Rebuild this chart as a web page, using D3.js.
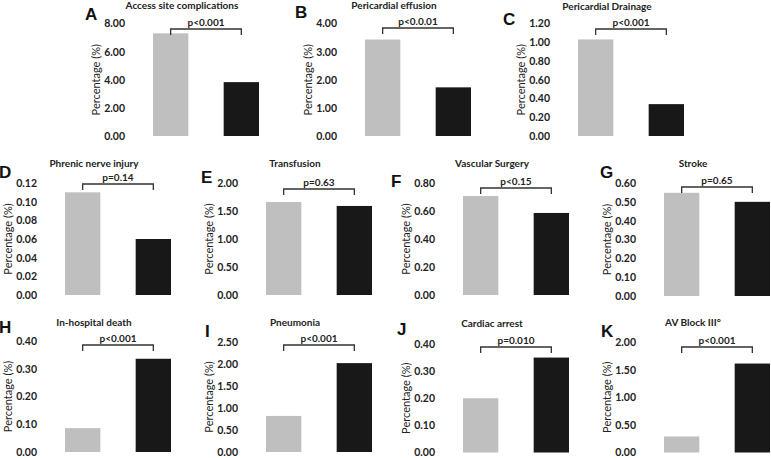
<!DOCTYPE html>
<html><head><meta charset="utf-8">
<script src="https://cdn.jsdelivr.net/npm/d3@7"></script>
<style>body{margin:0;background:#fff}svg{display:block}</style></head>
<body>
<svg id="c" width="771" height="458"></svg>
<script>
// ---- data ----
const letters = ["A","B","C","D","E","F","G","H","I","J","K"];
const titles = ["Access site complications","Pericardial effusion","Pericardial Drainage",
  "Phrenic nerve injury","Transfusion","Vascular Surgery","Stroke",
  "In-hospital death","Pneumonia","Cardiac arrest","AV Block III°"];
const pLabels = ["p<0.001","p<0.0.01","p<0.001","p=0.14","p=0.63","p<0.15","p=0.65",
  "p<0.001","p<0.001","p=0.010","p<0.001"];
const groups = ["group1","group2"];
const group1Values = [7.30, 3.43, 1.03, 0.110, 1.66, 0.707, 0.548, 0.086, 0.82, 0.20, 0.29];
const group2Values = [3.83, 1.73, 0.34, 0.060, 1.59, 0.586, 0.50, 0.336, 2.02, 0.35, 1.61];
const yMaxes = [8, 4, 1.2, 0.12, 2, 0.8, 0.6, 0.4, 2.5, 0.4, 2];
const tickSteps = [2, 1, 0.2, 0.02, 0.5, 0.2, 0.1, 0.1, 0.5, 0.1, 0.5];
const yAxisTitle = "Percentage (%)";

// ---- layout (positions only) ----
const layout = [
  {x0:153, top:23.5, bottom:136, lx:85,  ly:20,  by:29,  ty:9},
  {x0:365, top:23.5, bottom:136, lx:295, ly:18,  by:28,  ty:9},
  {x0:578, top:23.5, bottom:136, lx:503, ly:25,  by:29,  ty:9.5},
  {x0:65,  top:183,  bottom:295, lx:-1,  ly:178, by:184, ty:167},
  {x0:266, top:183,  bottom:295, lx:201, ly:183, by:189, ty:167},
  {x0:463, top:183,  bottom:295, lx:391, ly:187, by:188, ty:167},
  {x0:664, top:183,  bottom:296, lx:600, ly:178, by:187, ty:167},
  {x0:65,  top:341,  bottom:452, lx:-1,  ly:333, by:345, ty:326},
  {x0:266, top:342,  bottom:452, lx:205, ly:337, by:345, ty:326},
  {x0:463, top:344,  bottom:452.5, lx:397, ly:335, by:347, ty:326.5},
  {x0:664, top:342,  bottom:452.5, lx:601, ly:337, by:347, ty:326}
];
const colors = {group1:"#bfbfbf", group2:"#181818"};
const FONT = "Lato, 'Open Sans', sans-serif";

const svg = d3.select("#c");

letters.forEach((L, i) => {
  const lay = layout[i];
  const vals = [group1Values[i], group2Values[i]];
  const x = d3.scaleBand().domain(groups).range([lay.x0, lay.x0 + 106]).paddingInner(0.5).paddingOuter(0);
  const y = d3.scaleLinear().domain([0, yMaxes[i]]).range([lay.bottom, lay.top]);
  const g = svg.append("g");

  // axis
  const ticks = d3.range(0, yMaxes[i] + tickSteps[i] / 2, tickSteps[i]);
  const ax = g.append("g")
    .attr("transform", `translate(${lay.x0 - 28},0)`)
    .call(d3.axisLeft(y).tickValues(ticks).tickFormat(d3.format(".2f")).tickSize(0).tickPadding(0));
  ax.select(".domain").remove();
  ax.selectAll("text").attr("font-family", FONT).attr("font-weight", "bold")
    .attr("font-size", 10.5).attr("fill", "#222");

  // y title
  g.append("text")
    .attr("transform", `translate(${lay.x0 - 57},${(lay.top + lay.bottom) / 2}) rotate(-90)`)
    .attr("text-anchor", "middle").attr("dy", "0.35em")
    .attr("font-family", FONT).attr("font-size", 11).attr("fill", "#222")
    .text(yAxisTitle);

  // bars
  g.selectAll("rect.bar").data(groups).enter().append("rect")
    .attr("x", d => x(d)).attr("width", x.bandwidth())
    .attr("y", (d, j) => y(vals[j])).attr("height", (d, j) => y(0) - y(vals[j]))
    .attr("fill", d => colors[d]);

  // bracket
  const c1 = x("group1") + x.bandwidth() / 2, c2 = x("group2") + x.bandwidth() / 2;
  g.append("path")
    .attr("d", `M${c1},${lay.by + 6}V${lay.by}H${c2}V${lay.by + 6}`)
    .attr("fill", "none").attr("stroke", "#333").attr("stroke-width", 1.3);
  g.append("text")
    .attr("x", (c1 + c2) / 2).attr("y", lay.by - 3.5).attr("text-anchor", "middle")
    .attr("font-family", FONT).attr("font-weight", "bold").attr("font-size", 10).attr("fill", "#222")
    .text(pLabels[i]);

  // title
  g.append("text")
    .attr("x", lay.x0 + 29).attr("y", lay.ty).attr("text-anchor", "middle")
    .attr("font-family", FONT).attr("font-weight", "bold").attr("font-size", 10).attr("fill", "#222")
    .text(titles[i]);

  // panel letter
  g.append("text")
    .attr("x", lay.lx).attr("y", lay.ly)
    .attr("font-family", "'Liberation Sans', Arial, sans-serif").attr("font-weight", "bold")
    .attr("font-size", 17).attr("fill", "#111")
    .text(L);
});
</script>
</body></html>
